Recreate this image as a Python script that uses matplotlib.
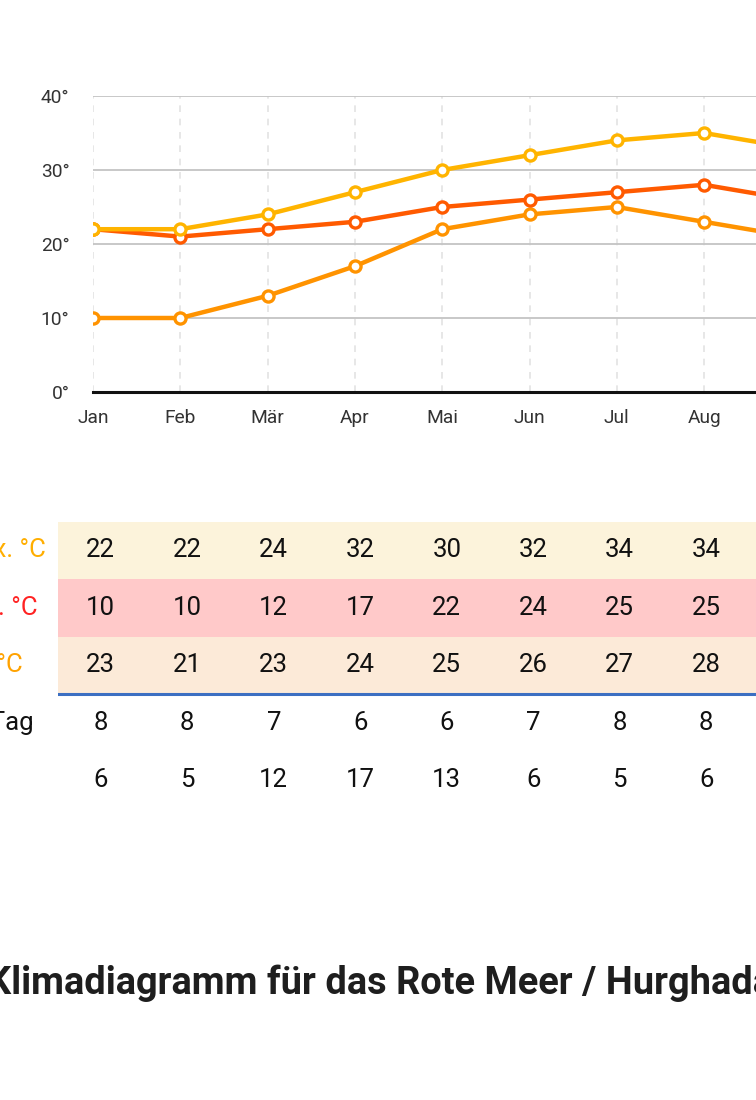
import matplotlib
matplotlib.use("Agg")
import matplotlib.pyplot as plt

# ---------------- data ----------------
months = ["Jan", "Feb", "Mär", "Apr", "Mai", "Jun", "Jul", "Aug", "Sep"]
max_temp_line = [22, 22, 24, 27, 30, 32, 34, 35, 33]
water_temp_line = [22, 21, 22, 23, 25, 26, 27, 28, 26]
min_temp_line = [10, 10, 13, 17, 22, 24, 25, 23, 21]
y_ticks = [0, 10, 20, 30, 40]

table_labels = ["Luft max. °C", "Luft min. °C", "Wasser °C", "Sonne/Tag", "Regentage"]
table_max = [22, 22, 24, 32, 30, 32, 34, 34]
table_min = [10, 10, 12, 17, 22, 24, 25, 25]
table_water = [23, 21, 23, 24, 25, 26, 27, 28]
table_sun = [8, 8, 7, 6, 6, 7, 8, 8]
table_rain = [6, 5, 12, 17, 13, 6, 5, 6]

title = "Klimadiagramm für das Rote Meer / Hurghada"

# ---------------- styles ----------------
C_MAX = "#FFB400"
C_WATER = "#FF5A00"
C_MIN = "#FF9300"
FONT = "Roboto"

W, H = 756, 1100
fig = plt.figure(figsize=(W / 100, H / 100), dpi=100)
fig.patch.set_facecolor("white")


def fx(px):
    return px / W


def fy(px):
    return 1 - px / H


# ---------------- line chart ----------------
col_w = 87.3
ax = fig.add_axes([fx(93), fy(392), 11 * col_w / W, 296 / H])
ax.set_xlim(0, 11)
ax.set_ylim(0, 40)
for s in ["top", "left", "right"]:
    ax.spines[s].set_visible(False)
ax.spines["bottom"].set_color("#111111")
ax.spines["bottom"].set_linewidth(2.2)
ax.spines["bottom"].set_zorder(5)

ax.set_yticks(y_ticks)
ax.set_yticklabels([f"{v}°" for v in y_ticks], fontfamily=FONT, fontsize=13.8, color="#333333")
ax.set_xticks(range(len(months)))
ax.set_xticklabels(months, fontfamily=FONT, fontsize=13.8, color="#333333")
ax.tick_params(axis="y", length=0, pad=17)
ax.tick_params(axis="x", length=0, pad=12)

ax.yaxis.grid(True, color="#c4c4c4", lw=1.3)
ax.xaxis.grid(True, color="#e3e3e3", lw=1.2, ls=(0, (4, 4)))
ax.set_axisbelow(True)

x = list(range(len(months)))
for vals, c in [(min_temp_line, C_MIN), (water_temp_line, C_WATER), (max_temp_line, C_MAX)]:
    ax.plot(x, vals, color=c, lw=3.2, marker="o", ms=8, mfc="white", mec=c, mew=2.4,
            solid_capstyle="round", zorder=3)

# ---------------- table ----------------
tcol_w = 86.5
row_h = 57.5
t_top = 521.7
tax = fig.add_axes([fx(57.5), fy(t_top + 5 * row_h), 12 * tcol_w / W, 5 * row_h / H])
tax.set_xlim(0, 12)
tax.set_ylim(5, 0)
tax.axis("off")

row_bgs = ["#FCF3DB", "#FFC9C9", "#FCEAD8"]
for r, bg in enumerate(row_bgs):
    tax.axhspan(r, r + 1, color=bg, lw=0, zorder=0)
tax.axhline(3, color="#3C6FC2", lw=2.2, zorder=2)

rows = [table_max, table_min, table_water, table_sun, table_rain]
for r, vals in enumerate(rows):
    for c, v in enumerate(vals):
        tax.text(c + 0.5, r + 0.5, str(v), ha="center", va="center",
                 fontsize=18.5, fontfamily=FONT, color="#111111", zorder=3)

label_colors = ["#FFAE00", "#FF2222", "#FFA200", "#111111", "#111111"]
label_ends_px = [46, 38, 22.5, 34, 0.8]
for r, (lab, col, end) in enumerate(zip(table_labels, label_colors, label_ends_px)):
    tax.text((end - 57.5) / tcol_w, r + 0.5, lab, ha="right", va="center",
             fontsize=18.5, fontfamily=FONT, color=col, clip_on=False)

# ---------------- title ----------------
fig.text(fx(380.5), fy(983), title, ha="center", va="center", fontsize=27.4,
         fontweight="bold", fontfamily=FONT, color="#1e1e1e")

fig.savefig("out.png", dpi=100)
